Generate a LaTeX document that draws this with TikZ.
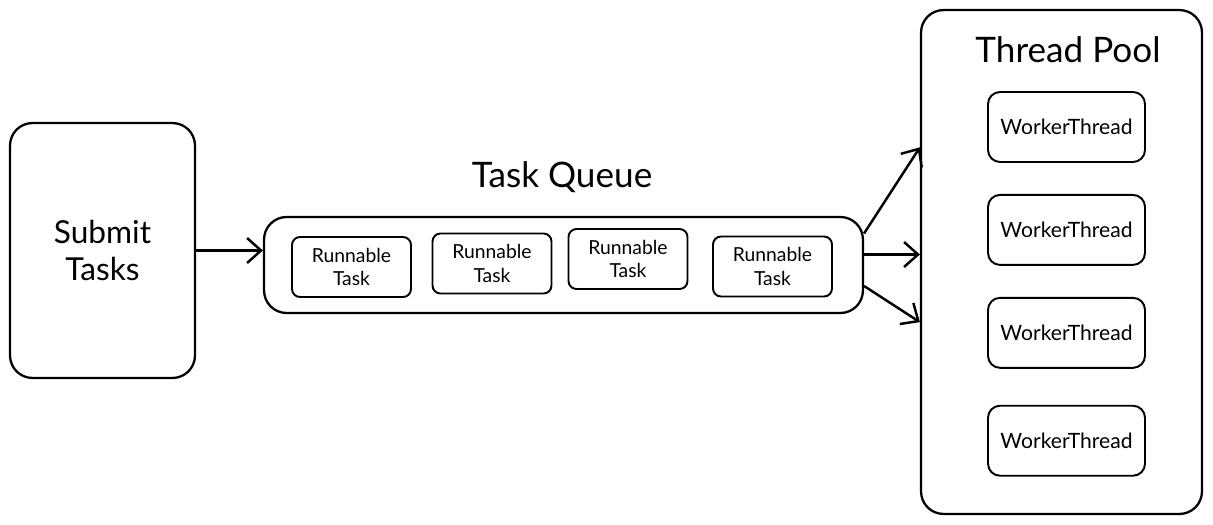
\documentclass[tikz,border=0pt]{standalone}
\usepackage{fontspec}
\setmainfont{Lato}
\usetikzlibrary{arrows.meta,positioning}

\begin{document}
\begin{tikzpicture}[
        x=0.02cm, y=-0.02cm,
        node distance=0.64cm,
        box/.style={rectangle, draw=black, line width=1.3pt, rounded corners=0.45cm, align=center},
        task/.style={rectangle, draw=black, line width=1.1pt, rounded corners=0.16cm, minimum width=2.38cm, minimum height=1.2cm, align=center, font=\fontsize{11}{13.5}\selectfont},
        worker/.style={task, minimum width=3.14cm, minimum height=1.4cm, rounded corners=0.24cm, font=\fontsize{12}{14}\selectfont},
        title/.style={font=\fontsize{20}{24}\selectfont},
        arrow/.style={-{Straight Barb[length=2.8mm,width=5mm]}, line width=1.4pt}
    ]
        \useasboundingbox (0,0) rectangle (1213,524);

        % Producer side
        \node[box, minimum width=3.7cm, minimum height=5.1cm, font=\fontsize{18}{21.5}\selectfont] (submit) at (102.5,250.5) {Submit\\Tasks};

        % Task queue
        \node[box, minimum width=11.98cm, minimum height=1.92cm] (queue) at (563.5,265) {};
        \node[title] (qlabel) at (562,177) {Task Queue};
        \node[task] (r1) at (351.5,267) {Runnable\\Task};
        \node[task] (r2) at (492,263.5) {Runnable\\Task};
        \node[task] (r3) at (628,259) {Runnable\\Task};
        \node[task] (r4) at (772.5,266.5) {Runnable\\Task};

        % Thread pool
        \node[box, minimum width=5.62cm, minimum height=10.08cm] (pool) at (1061.5,262) {};
        \node[title] (plabel) at (1068,50) {Thread Pool};
        \node[worker] (w1) at (1066.5,127) {WorkerThread};
        \node[worker] (w2) [below=0.62cm of w1] {WorkerThread};
        \node[worker] (w3) [below=0.62cm of w2] {WorkerThread};
        \node[worker] (w4) [below=0.72cm of w3] {WorkerThread};

        % Arrows
        \draw[arrow] (submit.east) -- (submit.east -| queue.west);
        \draw[arrow] (queue.6) -- (pool.141.6);
        \draw[arrow] (queue.2) -- (queue.2 -| pool.west);
        \draw[arrow] (queue.-4.8) -- (pool.203);

    \end{tikzpicture}
\end{document}
